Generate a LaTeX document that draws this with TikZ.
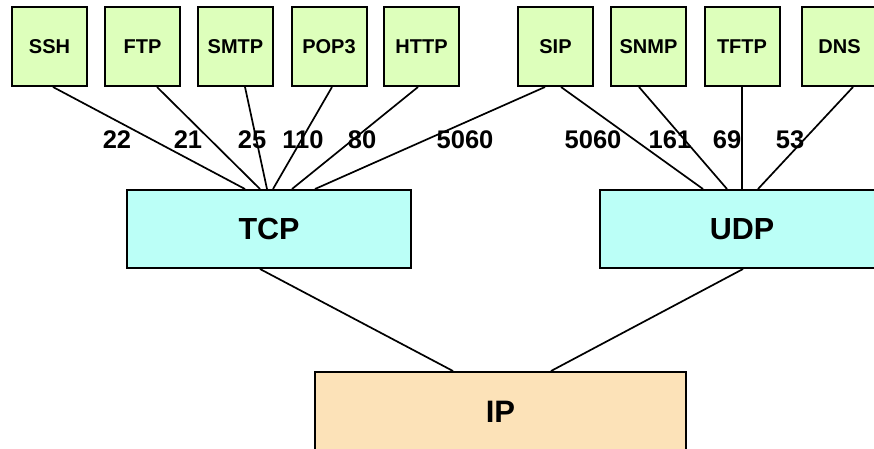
\documentclass[tikz,border=0pt]{standalone}
\usepackage{fontspec}
\setmainfont{Liberation Sans}
\definecolor{appgreen}{HTML}{DDFFBB}
\definecolor{tcpcyan}{HTML}{BBFFF7}
\definecolor{ippeach}{HTML}{FCE2B8}
\tikzset{
  box/.style={draw=black, line width=2pt, inner sep=0pt, font=\bfseries},
  app/.style={box, fill=appgreen, minimum width=75pt, minimum height=79pt, font=\fontsize{20}{24}\selectfont\bfseries},
  trans/.style={box, fill=tcpcyan, minimum width=284pt, minimum height=78pt, font=\fontsize{30.5}{36}\selectfont\bfseries},
  net/.style={box, fill=ippeach, minimum width=371pt, minimum height=80pt, font=\fontsize{31}{36}\selectfont\bfseries},
  link/.style={line width=1.7pt, black},
  port/.style={inner sep=0pt, font=\fontsize{25.5}{30}\selectfont\bfseries}
}
\begin{document}
\begin{tikzpicture}[x=1pt,y=-1pt]
\path[use as bounding box, clip] (0,0) rectangle (874,448);
\fill[white] (0,0) rectangle (874,448);
% nodes
\node[app] (ssh) at (49.5,46.5) {SSH};
\node[app] (ftp) at (142.5,46.5) {FTP};
\node[app] (smtp) at (235.5,46.5) {SMTP};
\node[app] (pop) at (329,46.5) {POP3};
\node[app] (http) at (421.5,46.5) {HTTP};
\node[app] (sip) at (555.5,46.5) {SIP};
\node[app] (snmp) at (648.5,46.5) {SNMP};
\node[app] (tftp) at (742,46.5) {TFTP};
\node[app] (dns) at (839.5,46.5) {DNS};
\node[trans] (tcp) at (269,229) {TCP};
\node[trans] (udp) at (742,229) {UDP};
\node[net] (ip) at (500.5,412) {IP};
% connectors
\draw[link] ([xshift=3.5pt]ssh.south) -- ([xshift=-24pt]tcp.north);
\draw[link] ([xshift=14.5pt]ftp.south) -- ([xshift=-9pt]tcp.north);
\draw[link] ([xshift=9.5pt]smtp.south) -- ([xshift=-2pt]tcp.north);
\draw[link] ([xshift=3pt]pop.south) -- ([xshift=4pt]tcp.north);
\draw[link] ([xshift=-3.5pt]http.south) -- ([xshift=23pt]tcp.north);
\draw[link] ([xshift=-10.5pt]sip.south) -- ([xshift=46pt]tcp.north);
\draw[link] ([xshift=5.5pt]sip.south) -- ([xshift=-39pt]udp.north);
\draw[link] ([xshift=-9.5pt]snmp.south) -- ([xshift=-15pt]udp.north);
\draw[link] (tftp.south) -- (udp.north);
\draw[link] ([xshift=13.5pt]dns.south) -- ([xshift=16pt]udp.north);
\draw[link] ([xshift=-9pt]tcp.south) -- ([xshift=-47.5pt]ip.north);
\draw[link] ([xshift=1pt]udp.south) -- ([xshift=50.5pt]ip.north);
% port labels
\node[port] (p22) at (117,140) {22};
\node[port] (p21) at (188,140) {21};
\node[port] (p25) at (252,140) {25};
\node[port] (p110) at (303,140) {110};
\node[port] (p80) at (362,140) {80};
\node[port] (p5060a) at (465,140) {5060};
\node[port] (p5060b) at (593,140) {5060};
\node[port] (p161) at (670,140) {161};
\node[port] (p69) at (727,140) {69};
\node[port] (p53) at (790,140) {53};
\end{tikzpicture}
\end{document}
